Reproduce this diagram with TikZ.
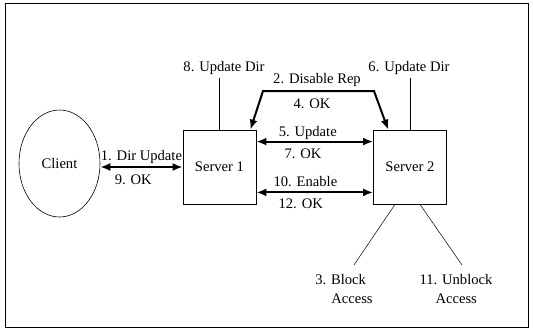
\documentclass[tikz,border=0pt]{standalone}
\usepackage{fontspec}
\setmainfont{Liberation Serif}
\usetikzlibrary{shapes.geometric,arrows.meta}

\begin{document}
\begin{tikzpicture}[x=1pt,y=-1pt,font=\fontsize{14.6}{19}\selectfont,
  box/.style={draw,line width=.8pt,minimum width=73pt,minimum height=74pt,inner sep=0pt},
  msg/.style={line width=2pt,{Latex[length=10pt,width=8pt]}-{Latex[length=10pt,width=8pt]}},
  tag/.style={line width=.5pt}]
  \useasboundingbox (0,0) rectangle (533,330);
  \draw[line width=.8pt] (5,3) rectangle (528,327);
  % hosts
  \node[draw,ellipse,line width=.6pt,inner sep=0pt,minimum width=81pt,minimum height=107pt] (C) at (59.5,163.5) {Client};
  \node[box]    (S1)        at (219.5,167) {Server 1};
  \node[box]    (S2)        at (410,167)   {Server 2};
  % text above the servers
  \node         (u8)        at (224,68)  {8. Update Dir};
  \node         (u6)        at (409,68)  {6. Update Dir};
  \node         (dis)       at (317,80)  {2. Disable Rep};
  \node         (ok4)       at (312,104) {4. OK};
  \coordinate   (r1)        at (263,91);
  \coordinate   (r2)        at (374,91);
  % text below server 2
  \node[align=left] (blk)   at (344,289) {3. Block\\\hspace*{16pt}Access};
  \node[align=left] (ublk)  at (456,289) {11. Unblock\\\hspace*{16pt}Access};
  \coordinate   (b3)        at (354,265);
  \coordinate   (b11)       at (462,265);
  % messages
  \draw[msg] (S1.west -| C.east) -- (S1.west)
    node[pos=.5,above=-1pt] (m1) {1. Dir Update}
    node[pos=.4,below=3pt]  (m9) {9. OK};
  \draw[msg] ([yshift=-12pt]S1.north east) -- ([yshift=-12pt]S2.north west)
    node[pos=.44,above=-2pt] (m5) {5. Update}
    node[pos=.4,below=3pt]   (m7) {7. OK};
  \draw[msg] ([yshift=12pt]S1.south east) -- ([yshift=12pt]S2.south west)
    node[pos=.42,above=1pt] (m10) {10. Enable}
    node[pos=.38,below=2pt] (m12) {12. OK};
  \draw[msg] ([xshift=-6pt]S1.north east) -- (r1) -- (r2) -- ([xshift=15pt]S2.north west);
  % notes
  \draw[tag] (S1.north) -- (S1.north |- u8.south);
  \draw[tag] (S2.north) -- (S2.north |- u6.south);
  \draw[tag] ([xshift=-15pt]S2.south) -- (b3);
  \draw[tag] ([xshift=10pt]S2.south) -- (b11);
\end{tikzpicture}
\end{document}
